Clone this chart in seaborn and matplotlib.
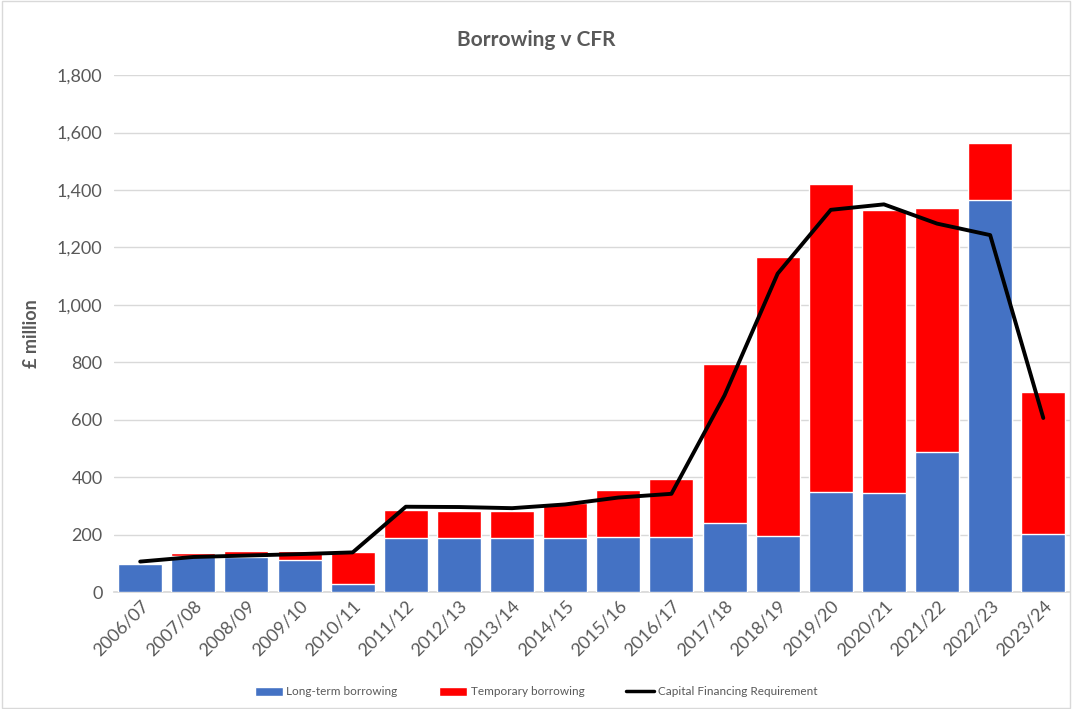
import matplotlib
matplotlib.use("Agg")
import matplotlib.pyplot as plt
import seaborn as sns
import pandas as pd
from matplotlib.ticker import FuncFormatter
from matplotlib.patches import Patch, Rectangle
from matplotlib.lines import Line2D

years = ["2006/07", "2007/08", "2008/09", "2009/10", "2010/11", "2011/12", "2012/13",
         "2013/14", "2014/15", "2015/16", "2016/17", "2017/18", "2018/19", "2019/20",
         "2020/21", "2021/22", "2022/23", "2023/24"]
long_term = [96, 127, 122, 111, 27, 189, 189, 189, 189, 193, 192, 239, 194, 348, 346, 486, 1365, 201]
temporary = [6, 10, 22, 33, 112, 95, 92, 92, 121, 163, 203, 555, 974, 1073, 983, 851, 198, 494]
cfr = [106, 122, 127, 132, 138, 297, 296, 292, 305, 329, 342, 685, 1109, 1331, 1350, 1283, 1243, 606]

df = pd.DataFrame({"year": years, "long": long_term, "temp": temporary, "cfr": cfr})
df["total"] = df["long"] + df["temp"]

sns.set_theme(style="white")
plt.rcParams["font.family"] = ["Lato", "DejaVu Sans"]

BLUE = "#4472C4"
RED = "#FF0000"
GRAY = "#595959"

fig = plt.figure(figsize=(10.72, 7.09), dpi=100)
ax = fig.add_axes([0.106, 0.165, 0.892, 0.729])

sns.barplot(data=df, x="year", y="total", color=RED, saturation=1, width=0.83, ax=ax, zorder=2)
sns.barplot(data=df, x="year", y="long", color=BLUE, saturation=1, width=0.83, ax=ax, zorder=3)
ax.plot(range(len(years)), df["cfr"], color="black", linewidth=2.8, zorder=4)

ax.set_ylim(0, 1800)
ax.set_xlim(-0.5, len(years) - 0.5)
ax.set_yticks(range(0, 1801, 200))
ax.yaxis.set_major_formatter(FuncFormatter(lambda v, p: f"{int(v):,}"))
ax.grid(axis="y", color="#D9D9D9", linewidth=1, zorder=0)
ax.set_axisbelow(True)
for s in ["top", "right", "left"]:
    ax.spines[s].set_visible(False)
ax.spines["bottom"].set_color("#D9D9D9")
ax.tick_params(axis="y", labelsize=13, colors=GRAY, length=0, pad=8)
ax.tick_params(axis="x", labelsize=13, colors=GRAY, length=0, pad=4)
plt.setp(ax.get_xticklabels(), rotation=45, ha="right", rotation_mode="anchor")
ax.set_xlabel("")
ax.set_ylabel("£ million", fontsize=13, fontweight="bold", color=GRAY, labelpad=12)

fig.text(0.5, 0.944, "Borrowing v CFR", ha="center", va="center", fontsize=15,
         fontweight="bold", color=GRAY)

handles = [Patch(facecolor=BLUE, label="Long-term borrowing"),
           Patch(facecolor=RED, label="Temporary borrowing"),
           Line2D([0], [0], color="black", linewidth=2.5, label="Capital Financing Requirement")]
leg = fig.legend(handles=handles, loc="center", bbox_to_anchor=(0.5, 0.024), ncol=3,
                 frameon=False, fontsize=8.5, handlelength=2.4, handleheight=0.8,
                 columnspacing=3.5, handletextpad=0.3)
for t in leg.get_texts():
    t.set_color(GRAY)

fig.patches.append(Rectangle((0.002, 0.002), 0.996, 0.996, transform=fig.transFigure,
                             fill=False, edgecolor="#D9D9D9", linewidth=1))

fig.savefig("out.png", dpi=100)
